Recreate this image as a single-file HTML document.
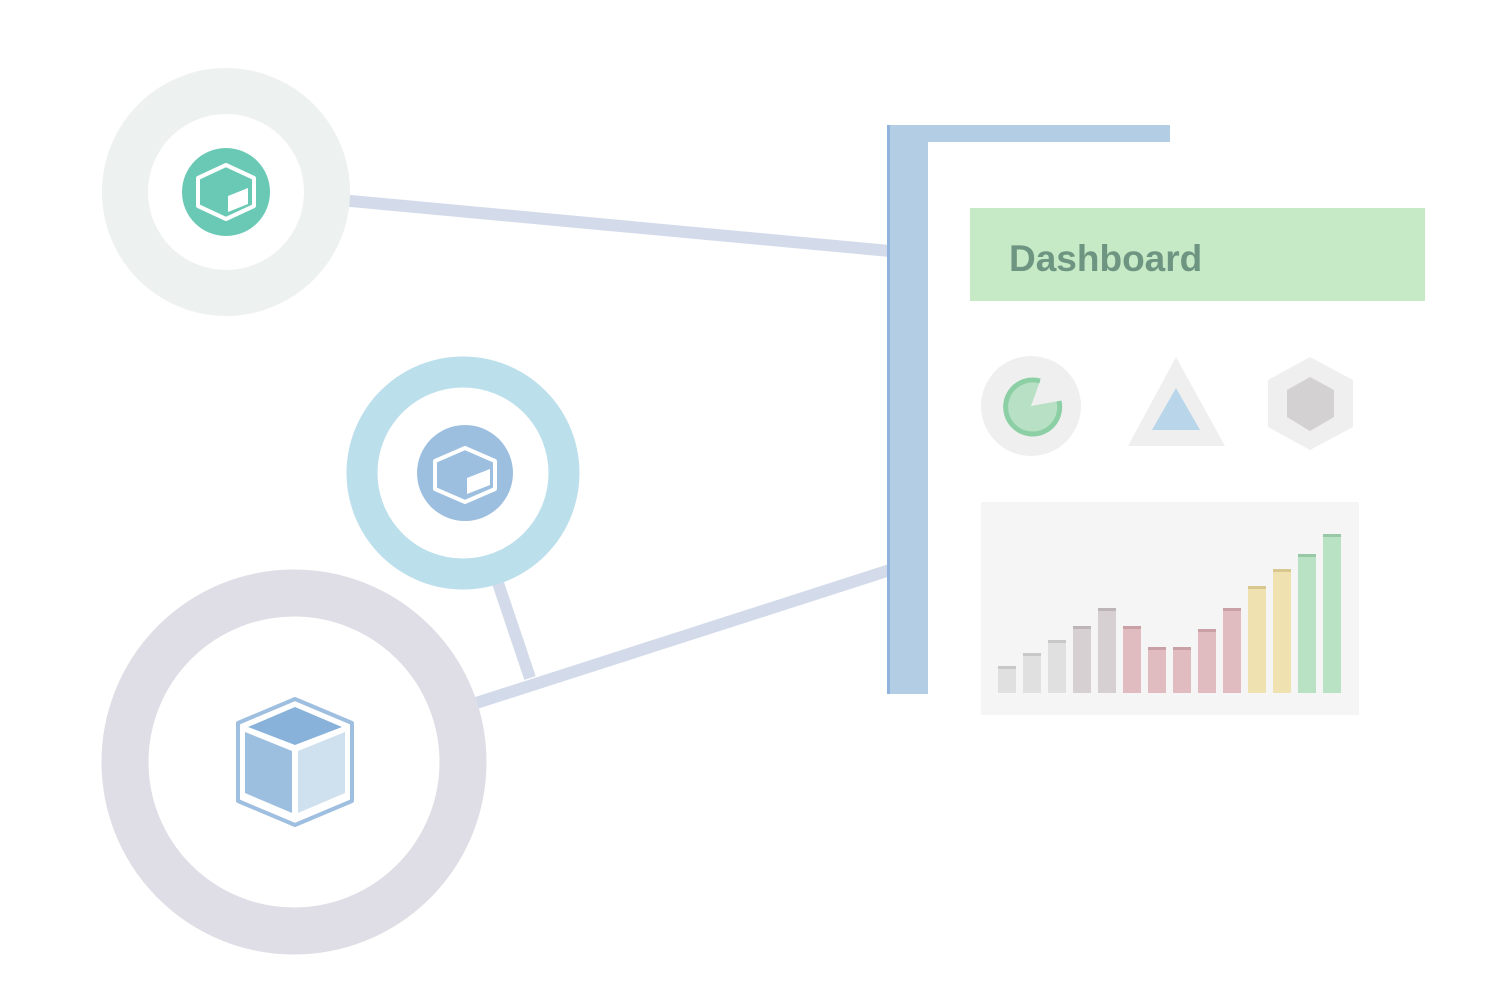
<!DOCTYPE html>
<html><head><meta charset="utf-8"><style>
html,body{margin:0;padding:0;background:#fff;width:1500px;height:1000px;overflow:hidden}
svg{display:block}
</style></head><body>
<svg width="1500" height="1000" viewBox="0 0 1500 1000" xmlns="http://www.w3.org/2000/svg">
<line x1="340" y1="200" x2="890" y2="251" stroke="#d3dbea" stroke-width="12"/>
<line x1="470" y1="705" x2="890" y2="570" stroke="#d3dbea" stroke-width="12"/>
<line x1="497" y1="580" x2="530" y2="678" stroke="#d3dbea" stroke-width="12"/>
<circle cx="226" cy="192" r="101" fill="none" stroke="#edf1ef" stroke-width="46"/>
<circle cx="226" cy="192" r="44" fill="#6ac9b4"/>
<g transform="translate(226,192)" fill="none" stroke="#fff" stroke-width="4" stroke-linejoin="round">
<polygon points="0,-27 28,-14 28,14 0,27 -28,14 -28,-14"/>
<polygon points="2,4 22,-4 22,12 2,20" fill="#fff" stroke="none"/>
</g>
<circle cx="463" cy="473" r="101" fill="none" stroke="#bcdfec" stroke-width="31"/>
<circle cx="465" cy="473" r="48" fill="#9dbfdf"/>
<g transform="translate(465,475)" fill="none" stroke="#fff" stroke-width="4" stroke-linejoin="round">
<polygon points="0,-27 30,-14 30,14 0,27 -30,14 -30,-14"/>
<polygon points="2,3 25,-6 25,10 2,19" fill="#fff" stroke="none"/>
</g>
<circle cx="294" cy="762" r="169" fill="none" stroke="#dfdde5" stroke-width="47"/>
<g transform="translate(295,762)" stroke-linejoin="round">
<polygon points="0,-63 57,-39 57,39 0,63 -57,39 -57,-39" fill="#fff" stroke="#9fbfe0" stroke-width="4"/>
<polygon points="0,-55 47,-35 0,-17 -47,-35" fill="#88b2da"/>
<polygon points="-50,-30 -3,-11 -3,51 -50,31" fill="#9dbfdf"/>
<polygon points="3,-11 50,-30 50,31 3,51" fill="#cfe0ef"/>
</g>
<rect x="887" y="125" width="41" height="569" fill="#b3cde4"/>
<rect x="887" y="125" width="3" height="569" fill="#8fb3dc"/>
<rect x="928" y="125" width="242" height="17" fill="#b3cde4"/>
<rect x="970" y="208" width="455" height="93" fill="#c6eac6"/>
<text x="1009" y="271" font-family="Liberation Sans, sans-serif" font-size="37" font-weight="bold" fill="#6e9482">Dashboard</text>
<circle cx="1031" cy="406" r="50" fill="#efefef"/>
<path d="M1040,381 A27,27 0 1 0 1059,401 L1031,406 Z" fill="#b7e0c4"/>
<path d="M1040,381 A27,27 0 1 0 1059,401" fill="none" stroke="#8ccfa4" stroke-width="5"/>
<polygon points="1176,357 1128,446 1225,446" fill="#efefef"/>
<polygon points="1176,388 1152,430 1200,430" fill="#b9d5ea"/>
<polygon points="1310,357 1353,380 1353,427 1310,450 1268,427 1268,380" fill="#efefef"/>
<polygon points="1310,377 1334,390 1334,417 1310,431 1287,417 1287,390" fill="#d3d1d2"/>
<rect x="981" y="502" width="378" height="213" fill="#f5f5f5"/>
<g>
<rect x="998" y="666" width="18" height="27" fill="#e0e0e0"/><rect x="998" y="666" width="18" height="3" fill="#c8c8c8"/>
<rect x="1023" y="653" width="18" height="40" fill="#e0e0e0"/><rect x="1023" y="653" width="18" height="3" fill="#c8c8c8"/>
<rect x="1048" y="640" width="18" height="53" fill="#e0e0e0"/><rect x="1048" y="640" width="18" height="3" fill="#c8c8c8"/>
<rect x="1073" y="626" width="18" height="67" fill="#d7d0d2"/><rect x="1073" y="626" width="18" height="3" fill="#bdb5b7"/>
<rect x="1098" y="608" width="18" height="85" fill="#d7d0d2"/><rect x="1098" y="608" width="18" height="3" fill="#bdb5b7"/>
<rect x="1123" y="626" width="18" height="67" fill="#e0bcc0"/><rect x="1123" y="626" width="18" height="3" fill="#c9a0a5"/>
<rect x="1148" y="647" width="18" height="46" fill="#e0bcc0"/><rect x="1148" y="647" width="18" height="3" fill="#c9a0a5"/>
<rect x="1173" y="647" width="18" height="46" fill="#e0bcc0"/><rect x="1173" y="647" width="18" height="3" fill="#c9a0a5"/>
<rect x="1198" y="629" width="18" height="64" fill="#e0bcc0"/><rect x="1198" y="629" width="18" height="3" fill="#c9a0a5"/>
<rect x="1223" y="608" width="18" height="85" fill="#e0bcc0"/><rect x="1223" y="608" width="18" height="3" fill="#c9a0a5"/>
<rect x="1248" y="586" width="18" height="107" fill="#efe2b0"/><rect x="1248" y="586" width="18" height="3" fill="#d8c88f"/>
<rect x="1273" y="569" width="18" height="124" fill="#efe2b0"/><rect x="1273" y="569" width="18" height="3" fill="#d8c88f"/>
<rect x="1298" y="554" width="18" height="139" fill="#b9e2c5"/><rect x="1298" y="554" width="18" height="3" fill="#98c8a6"/>
<rect x="1323" y="534" width="18" height="159" fill="#b9e2c5"/><rect x="1323" y="534" width="18" height="3" fill="#98c8a6"/>
</g>
</svg>
</body></html>
